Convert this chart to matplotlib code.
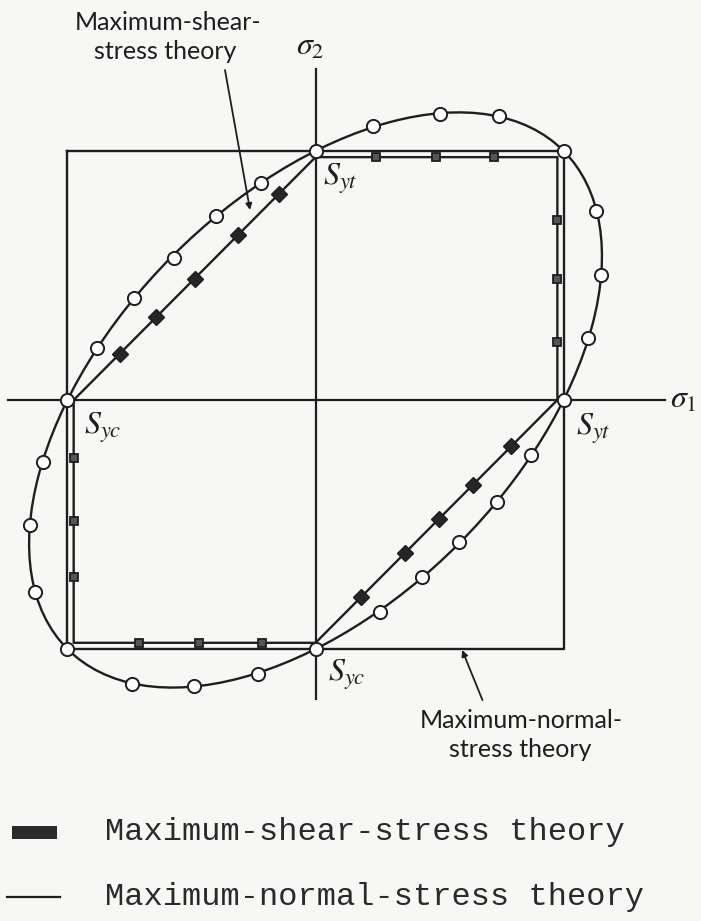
import numpy as np
import matplotlib
matplotlib.use('Agg')
from matplotlib import pyplot as plt
from matplotlib.patches import Ellipse, Rectangle

plt.rcParams['mathtext.fontset'] = 'stix'

# principal stresses in units of the yield strength (Syt = Syc = 1)
normal_s1 = [-1, 1, 1, -1, -1]
normal_s2 = [1, 1, -1, -1, 1]

shear_s1 = [0, 1, 1, 0, -1, -1, 0]
shear_s2 = [1, 1, 0, -1, -1, 0, 1]

# distortion-energy ellipse s1^2 - s1*s2 + s2^2 = 1, axes along the 45 deg lines
ellipse_a = np.sqrt(2.0)
ellipse_b = np.sqrt(2.0 / 3.0)

# points marked on the ellipse
de_s1 = [0, 0.23, 0.50, 0.74, 1, 1.13, 1.15, 1.10, 1,
         0.87, 0.73, 0.58, 0.43, 0.26, 0, -0.23, -0.49, -0.74, -1,
         -1.13, -1.15, -1.10, -1, -0.88, -0.73, -0.57, -0.40, -0.22]
de_s2 = [1, 1.10, 1.15, 1.14, 1, 0.76, 0.50, 0.25, 0,
         -0.22, -0.41, -0.57, -0.71, -0.85, -1, -1.10, -1.15, -1.14, -1,
         -0.77, -0.50, -0.25, 0, 0.21, 0.41, 0.57, 0.74, 0.87]

# points marked on the hexagon: edges parallel to the axes, then the diagonals
ms_edge_s1 = [0.25, 0.50, 0.74, 1, 1, 1, -1, -1, -1, -0.73, -0.48, -0.22]
ms_edge_s2 = [1, 1, 1, 0.74, 0.50, 0.24, -0.24, -0.50, -0.73, -1, -1, -1]
ms_diag_s1 = [-0.15, -0.32, -0.50, -0.66, -0.81, 0.81, 0.65, 0.51, 0.37, 0.19]
ms_diag_s2 = [0.85, 0.68, 0.50, 0.34, 0.19, -0.19, -0.35, -0.49, -0.63, -0.81]

ink = '#1e1e1e'
inset = 0.975  # hexagon drawn just inside the square so both stay visible

fig = plt.figure(figsize=(7.01, 9.21), dpi=100)
fig.patch.set_facecolor('#f7f7f5')
ax = fig.add_axes([0, 0, 1, 1])
ax.set_xlim(-1.272, 1.554)
ax.set_ylim(-2.092, 1.606)
ax.axis('off')

# axes
ax.plot([-1.240, 1.409], [0, 0], color=ink, lw=1.6)
ax.plot([0, 0], [-1.201, 1.329], color=ink, lw=1.6)

# maximum-normal-stress square
ax.plot(normal_s1, normal_s2, color=ink, lw=1.7)

# maximum-shear-stress hexagon
hx = np.array(shear_s1) * inset
hy = np.array(shear_s2) * inset
ax.plot(hx, hy, color=ink, lw=1.7)
ax.plot(np.array(ms_edge_s1) * inset, np.array(ms_edge_s2) * inset, ls='none',
        marker='s', ms=6, mfc='#555555', mec=ink, mew=1.3, zorder=4)
ax.plot(np.array(ms_diag_s1) * inset, np.array(ms_diag_s2) * inset, ls='none',
        marker='D', ms=8, mfc='#262626', mec=ink, mew=1.0, zorder=4)

# distortion-energy ellipse
ax.add_patch(Ellipse((0, 0), 2 * ellipse_a, 2 * ellipse_b, angle=45,
                     fill=False, ec=ink, lw=1.7))
ax.plot(de_s1, de_s2, ls='none', marker='o', ms=9.5, mfc='white', mec=ink,
        mew=1.4, zorder=5)

# axis labels
sym = dict(fontsize=23, color=ink, ha='left', va='baseline')
ax.text(1.431, -0.03, r'$\sigma_1$', **sym)
ax.text(-0.079, 1.386, r'$\sigma_2$', **sym)
ax.text(0.030, 0.862, r'$S_{yt}$', **sym)
ax.text(1.050, -0.138, r'$S_{yt}$', **sym)
ax.text(-0.933, -0.134, r'$S_{yc}$', **sym)
ax.text(0.050, -1.129, r'$S_{yc}$', **sym)

# callouts
lab = dict(fontsize=18, family='Lato', color=ink, ha='center', va='center')
ax.text(-0.594, 1.514, 'Maximum-shear-', **lab)
ax.text(-0.605, 1.398, 'stress theory', **lab)
ax.annotate('', xy=(-0.264, 0.763), xytext=(-0.365, 1.325),
            arrowprops=dict(arrowstyle='-|>', color=ink, lw=1.3,
                            mutation_scale=9, shrinkA=0, shrinkB=0))
ax.text(0.831, -1.285, 'Maximum-normal-', **lab)
ax.text(0.827, -1.402, 'stress theory', **lab)
ax.annotate('', xy=(0.591, -1.004), xytext=(0.673, -1.205),
            arrowprops=dict(arrowstyle='-|>', color=ink, lw=1.3,
                            mutation_scale=9, shrinkA=0, shrinkB=0))

# key
ax.add_patch(Rectangle((-1.224, -1.761), 0.181, 0.052, fc='#2a2a2a', ec='none'))
ax.plot([-1.244, -1.030], [-1.996, -1.996], color=ink, lw=1.6)
key = dict(fontsize=23, family='Liberation Mono', color='#2a2a2a', ha='left', va='center')
ax.text(-0.849, -1.735, 'Maximum-shear-stress theory', **key)
ax.text(-0.849, -1.996, 'Maximum-normal-stress theory', **key)

fig.savefig('out.png', dpi=100, facecolor=fig.get_facecolor())
